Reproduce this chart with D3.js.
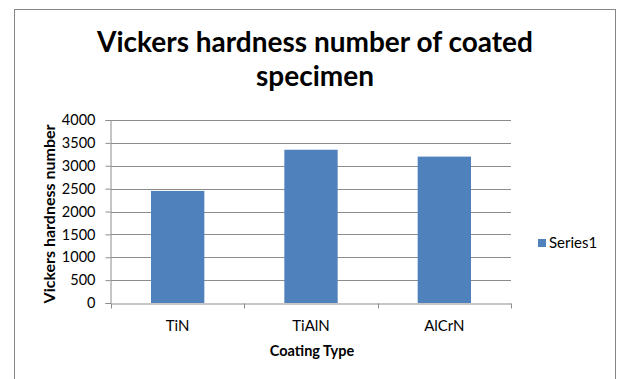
<!DOCTYPE html>
<html><head><meta charset="utf-8">
<script src="https://cdn.jsdelivr.net/npm/d3@7"></script>
<style>
body{margin:0;background:#fff;}
text{font-family:Lato,"Open Sans",sans-serif;fill:#000;}
</style></head>
<body>
<svg id="chart" width="620" height="379"></svg>
<script>
const categories = ["TiN", "TiAlN", "AlCrN"];
const values = [2450, 3350, 3200];
const yTicks = [0, 500, 1000, 1500, 2000, 2500, 3000, 3500, 4000];
const seriesName = "Series1";
const titleLines = ["Vickers hardness number of coated", "specimen"];
const xTitle = "Coating Type";
const yTitle = "Vickers hardness number";

const svg = d3.select("#chart");
svg.append("rect").attr("x", 14.5).attr("y", 9.5).attr("width", 601).attr("height", 380)
  .attr("fill", "#fff").attr("stroke", "#868686").attr("stroke-width", 1);

const plot = {left: 111, right: 511, top: 120, bottom: 303};
const x = d3.scaleBand().domain(categories).range([plot.left, plot.right]).paddingInner(0.6).paddingOuter(0.3);
const xb = d3.scaleBand().domain(categories).range([plot.left, plot.right]);
const y = d3.scaleLinear().domain([0, 4000]).range([plot.bottom, plot.top]);

// gridlines
svg.append("g").selectAll("line").data(yTicks.filter(d => d > 0)).join("line")
  .attr("x1", plot.left).attr("x2", plot.right)
  .attr("y1", d => Math.round(y(d)) + 0.5).attr("y2", d => Math.round(y(d)) + 0.5)
  .attr("stroke", "#8c8c8c").attr("stroke-width", 1);

// bars
svg.append("g").selectAll("rect").data(categories).join("rect")
  .attr("x", d => x(d)).attr("width", x.bandwidth())
  .attr("y", (d, i) => y(values[i])).attr("height", (d, i) => y(0) - y(values[i]))
  .attr("fill", "#4f81bd");

// y axis
const yAxis = svg.append("g").attr("transform", `translate(${plot.left - 0.5},0)`)
  .call(d3.axisLeft(y).tickValues(yTicks).tickSize(5).tickPadding(10).tickFormat(d3.format("d")));
yAxis.select(".domain").attr("stroke", "#8c8c8c");
yAxis.selectAll(".tick line").attr("stroke", "#8c8c8c");
yAxis.selectAll("text").style("font-size", "14.5px").attr("fill", "#000");

// x axis
const xAxis = svg.append("g").attr("transform", `translate(0,${plot.bottom + 0.5})`)
  .call(d3.axisBottom(xb).tickSize(0).tickPadding(17));
xAxis.select(".domain").attr("stroke", "#8c8c8c");
xAxis.selectAll("text").style("font-size", "15px").attr("fill", "#000");
xAxis.selectAll(".sep").data([...categories.map(c => xb(c)), plot.right]).join("line")
  .attr("class", "sep")
  .attr("x1", d => Math.round(d) + 0.5).attr("x2", d => Math.round(d) + 0.5)
  .attr("y1", 0).attr("y2", 5).attr("stroke", "#8c8c8c");

// titles
svg.append("g").selectAll("text").data(titleLines).join("text")
  .attr("x", 315).attr("y", (d, i) => 52 + i * 34)
  .attr("text-anchor", "middle").style("font-size", "28px").style("font-weight", "bold")
  .text(d => d);

svg.append("text").attr("x", 312).attr("y", 356).attr("text-anchor", "middle")
  .style("font-size", "14.5px").style("font-weight", "bold").text(xTitle);

svg.append("text").attr("transform", "translate(55,214) rotate(-90)").attr("text-anchor", "middle")
  .style("font-size", "16px").style("font-weight", "bold").text(yTitle);

// legend
const lg = svg.append("g").attr("transform", "translate(538,239)");
lg.append("rect").attr("width", 8).attr("height", 8).attr("fill", "#4f81bd");
lg.append("text").attr("x", 11).attr("y", 9).style("font-size", "15px").text(seriesName);
</script>
</body></html>
